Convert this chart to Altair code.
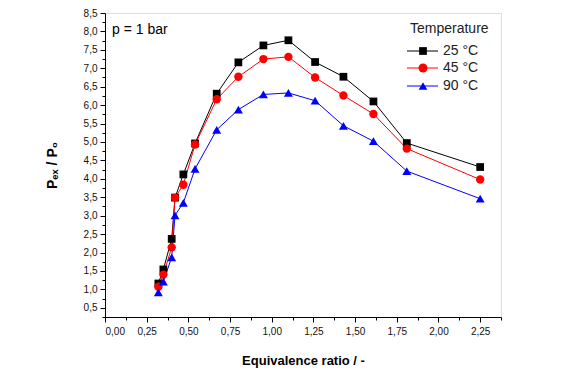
import altair as alt
import pandas as pd

# ---- data ----
phi = [0.32, 0.35, 0.40, 0.42, 0.47, 0.54, 0.67, 0.80, 0.95, 1.10, 1.26, 1.43, 1.61, 1.81, 2.25]
p25 = [1.16, 1.54, 2.37, 3.49, 4.12, 4.96, 6.31, 7.16, 7.62, 7.76, 7.17, 6.77, 6.10, 4.97, 4.32]
p45 = [1.07, 1.40, 2.14, 3.49, 3.84, 4.93, 6.16, 6.77, 7.25, 7.31, 6.75, 6.26, 5.76, 4.82, 3.98]
p90 = [0.92, 1.21, 1.87, 3.01, 3.35, 4.27, 5.33, 5.88, 6.29, 6.33, 6.12, 5.44, 5.02, 4.21, 3.46]

series = ["25 °C", "45 °C", "90 °C"]
colors = ["#000000", "#ff0000", "#0000ff"]
shapes = ["square", "circle", "triangle-up"]
sizes = [60, 80, 75]

x_major = [0.0, 0.25, 0.5, 0.75, 1.0, 1.25, 1.5, 1.75, 2.0, 2.25]
x_minor = [0.125, 0.375, 0.625, 0.875, 1.125, 1.375, 1.625, 1.875, 2.125, 2.375]
y_major = [0.5, 1.0, 1.5, 2.0, 2.5, 3.0, 3.5, 4.0, 4.5, 5.0, 5.5, 6.0, 6.5, 7.0, 7.5, 8.0, 8.5]
y_minor = [0.25, 0.75, 1.25, 1.75, 2.25, 2.75, 3.25, 3.75, 4.25, 4.75, 5.25, 5.75,
           6.25, 6.75, 7.25, 7.75, 8.25]

x_title = "Equivalence ratio / -"
y_title = "Pₑₓ / P₀"
legend_title = "Temperature"
note = "p = 1 bar"

FONT = "Liberation Sans"

rows = []
for s, vals in zip(series, [p25, p45, p90]):
    for xv, yv in zip(phi, vals):
        rows.append({"phi": xv, "p": yv, "T": s})
df = pd.DataFrame(rows)

xscale = alt.Scale(domain=[0, 2.375], nice=False, zero=False)
yscale = alt.Scale(domain=[0.25, 8.5], nice=False, zero=False)
cscale = alt.Scale(domain=series, range=colors)
sscale = alt.Scale(domain=series, range=shapes)

major_x_axis = alt.Axis(
    values=x_major, orient="bottom", tickSize=5, tickColor="black", domainColor="black",
    labelExpr="replace(format(datum.value, '.2f'), '.', ',')",
    labelFont=FONT, labelFontSize=10, labelColor="#111111", labelPadding=4,
    grid=False, title=x_title, titleFont=FONT, titleFontSize=13, titleFontWeight="bold",
    titleColor="black", titleY=43, titleBaseline="middle",
)
major_y_axis = alt.Axis(
    values=y_major, orient="left", tickSize=5, tickColor="black", domainColor="black",
    labelExpr="replace(format(datum.value, '.1f'), '.', ',')",
    labelFont=FONT, labelFontSize=10, labelColor="#111111", labelPadding=3,
    grid=False, title=y_title, titleFont=FONT, titleFontSize=14, titleFontWeight="bold",
    titleColor="black", titleX=-53, titleY=152, titleBaseline="middle", titleAngle=270,
)
minor_x_axis = alt.Axis(values=x_minor, orient="bottom", tickSize=3, tickColor="black",
                        labels=False, domain=False, grid=False, title=None)
minor_y_axis = alt.Axis(values=y_minor, orient="left", tickSize=3, tickColor="black",
                        labels=False, domain=False, grid=False, title=None)

base = alt.Chart(df)

lines = base.mark_line(strokeWidth=1).encode(
    x=alt.X("phi:Q", scale=xscale, axis=major_x_axis),
    y=alt.Y("p:Q", scale=yscale, axis=major_y_axis),
    color=alt.Color("T:N", scale=cscale, legend=None),
    order="phi:Q",
)

points = base.mark_point(filled=True, opacity=1, strokeWidth=0).encode(
    x=alt.X("phi:Q", scale=xscale, axis=minor_x_axis),
    y=alt.Y("p:Q", scale=yscale, axis=minor_y_axis),
    color=alt.Color("T:N", scale=cscale, legend=None),
    shape=alt.Shape("T:N", scale=sscale, legend=None),
    size=alt.Size("T:N", scale=alt.Scale(domain=series, range=sizes), legend=None),
)

note_df = pd.DataFrame({"t": [note]})
note_layer = alt.Chart(note_df).mark_text(
    align="left", baseline="middle", font=FONT, fontSize=14, color="black"
).encode(text="t:N", x=alt.value(7), y=alt.value(17))

leg_layers = []
title_df = pd.DataFrame({"t": [legend_title]})
leg_layers.append(
    alt.Chart(title_df).mark_text(align="left", baseline="middle", font=FONT,
                                  fontSize=14, color="#222222")
    .encode(text="t:N", x=alt.value(305), y=alt.value(16))
)
ys = [38, 55, 73]
for s, c, sh, sz, yy in zip(series, colors, shapes, sizes, ys):
    one = pd.DataFrame({"t": [s]})
    leg_layers.append(
        alt.Chart(one).mark_rule(color=c, strokeWidth=1)
        .encode(x=alt.value(302), x2=alt.value(333), y=alt.value(yy))
    )
    leg_layers.append(
        alt.Chart(one).mark_point(filled=True, opacity=1, strokeWidth=0, color=c,
                                  shape=sh, size=sz)
        .encode(x=alt.value(318), y=alt.value(yy))
    )
    leg_layers.append(
        alt.Chart(one).mark_text(align="left", baseline="middle", font=FONT,
                                 fontSize=14, color="#222222")
        .encode(text="t:N", x=alt.value(338), y=alt.value(yy))
    )

chart = alt.layer(lines, points, note_layer, *leg_layers).resolve_axis(
    x="independent", y="independent"
).properties(
    width=396, height=304,
    padding={"left": 97, "top": 5, "right": 70, "bottom": 55},
    autosize=alt.AutoSizeParams(type="none"),
).configure_view(stroke="black", strokeWidth=1).configure(background="white")

chart.save("out.html", embed_options={"renderer": "svg", "actions": False})
